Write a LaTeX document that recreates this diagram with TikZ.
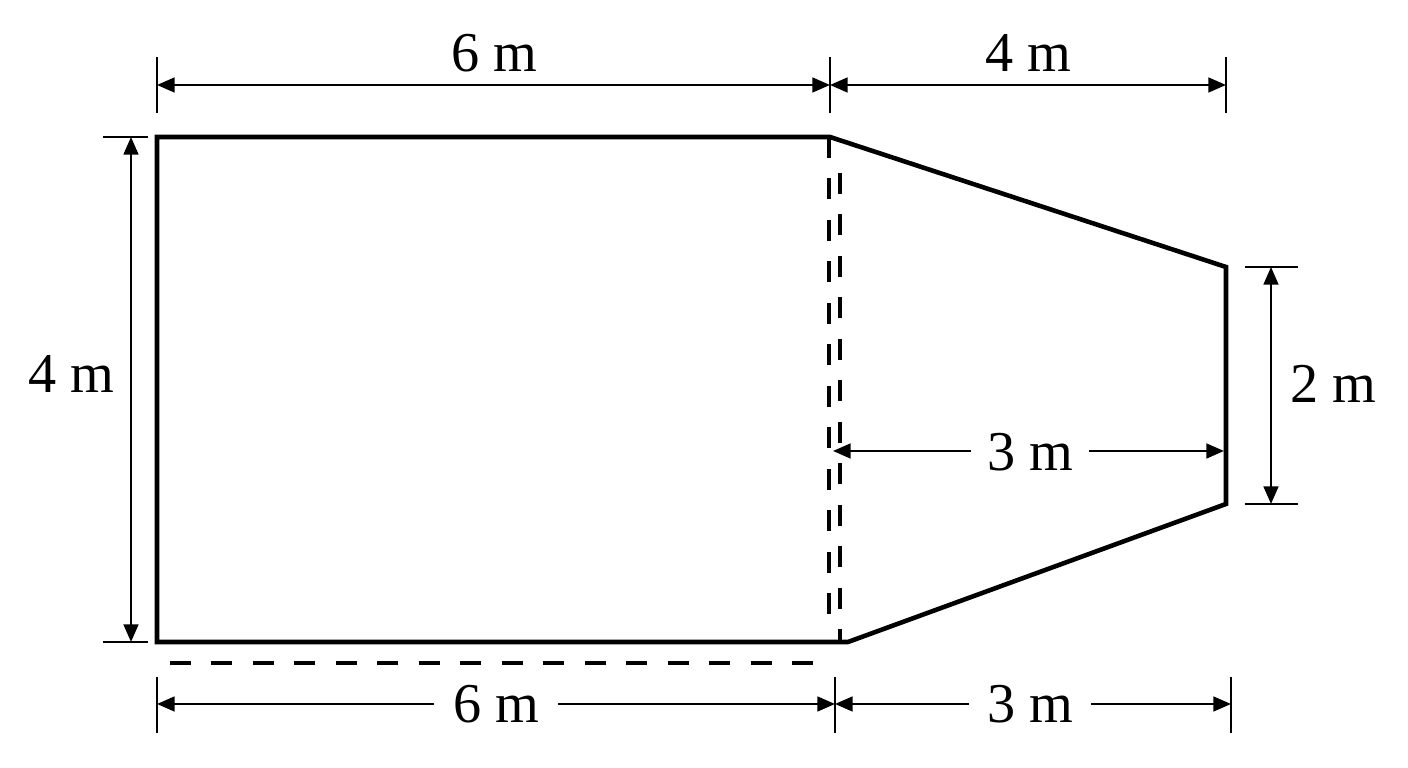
\documentclass[tikz,border=0pt]{standalone}
\usepackage{fontspec}
\setmainfont{Liberation Serif}
\usetikzlibrary{arrows.meta}
\begin{document}
\begin{tikzpicture}[x=0.01cm,y=-0.01cm,
  outline/.style={line width=1.3pt,line join=miter},
  hidden/.style={line width=1.15pt,dash pattern=on 5.9pt off 5.9pt},
  dimline/.style={line width=0.6pt,{Triangle[length=5pt,width=4.2pt]}-{Triangle[length=5pt,width=4.2pt]}},
  extline/.style={line width=0.6pt},
  lbl/.style={font=\fontsize{16}{19}\selectfont,anchor=base,inner sep=0pt}]
\useasboundingbox (0,0) rectangle (1408,768);
% shape corners
\coordinate (A) at (157,137);
\coordinate (B) at (830,137);
\coordinate (C) at (1226,267);
\coordinate (D) at (1226,504);
\coordinate (E) at (848,642);
\coordinate (F) at (157,642);
\draw[outline] (A) -- (B) -- (C) -- (D) -- (E) -- (F) -- cycle;
% hidden lines
\coordinate (h1a) at (829,137);
\coordinate (h1b) at (829,630);
\coordinate (h2a) at (840,173);
\coordinate (h2b) at (840,642);
\coordinate (h3a) at (170,663);
\coordinate (h3b) at (828,663);
\draw[hidden] (h1a) -- (h1b);
\draw[hidden] (h2a) -- (h2b);
\draw[hidden] (h3a) -- (h3b);
% top dimension
\coordinate (t1a) at (157,57); \coordinate (t1b) at (157,113);
\coordinate (t2a) at (830,57); \coordinate (t2b) at (830,113);
\coordinate (t3a) at (1226,57); \coordinate (t3b) at (1226,113);
\draw[extline] (t1a) -- (t1b);
\draw[extline] (t2a) -- (t2b);
\draw[extline] (t3a) -- (t3b);
\coordinate (ta) at (157,85); \coordinate (tb) at (830,85); \coordinate (tc) at (1226,85);
\draw[dimline] (ta) -- (tb);
\draw[dimline] (tb) -- (tc);
\node[lbl] (top6) at (494,72) {6 m};
\node[lbl] (top4) at (1028,72) {4 m};
% left dimension
\coordinate (l1a) at (103,137); \coordinate (l1b) at (148,137);
\coordinate (l2a) at (103,642); \coordinate (l2b) at (148,642);
\draw[extline] (l1a) -- (l1b);
\draw[extline] (l2a) -- (l2b);
\coordinate (la) at (131,137); \coordinate (lb) at (131,642);
\draw[dimline] (la) -- (lb);
\node[lbl] (left4) at (71,393) {4 m};
% right dimension
\coordinate (r1a) at (1245,267); \coordinate (r1b) at (1298,267);
\coordinate (r2a) at (1245,504); \coordinate (r2b) at (1298,504);
\draw[extline] (r1a) -- (r1b);
\draw[extline] (r2a) -- (r2b);
\coordinate (ra) at (1271,267); \coordinate (rb) at (1271,504);
\draw[dimline] (ra) -- (rb);
\node[lbl] (right2) at (1333,403) {2 m};
% middle dimension
\coordinate (ma) at (833,451); \coordinate (mb) at (1224,451);
\draw[dimline] (ma) -- (mb);
\node[lbl,fill=white,inner xsep=4.6pt,inner ysep=0pt] (mid3) at (1030,471) {3 m};
% bottom dimension
\coordinate (b1a) at (157,677); \coordinate (b1b) at (157,733);
\coordinate (b2a) at (835,677); \coordinate (b2b) at (835,733);
\coordinate (b3a) at (1231,677); \coordinate (b3b) at (1231,733);
\draw[extline] (b1a) -- (b1b);
\draw[extline] (b2a) -- (b2b);
\draw[extline] (b3a) -- (b3b);
\coordinate (ba) at (157,704); \coordinate (bb) at (835,704); \coordinate (bc) at (1231,704);
\draw[dimline] (ba) -- (bb);
\draw[dimline] (bb) -- (bc);
\node[lbl,fill=white,inner xsep=5.5pt,inner ysep=0pt] (bot6) at (496,723) {6 m};
\node[lbl,fill=white,inner xsep=5.2pt,inner ysep=0pt] (bot3) at (1030,723) {3 m};
\end{tikzpicture}
\end{document}
